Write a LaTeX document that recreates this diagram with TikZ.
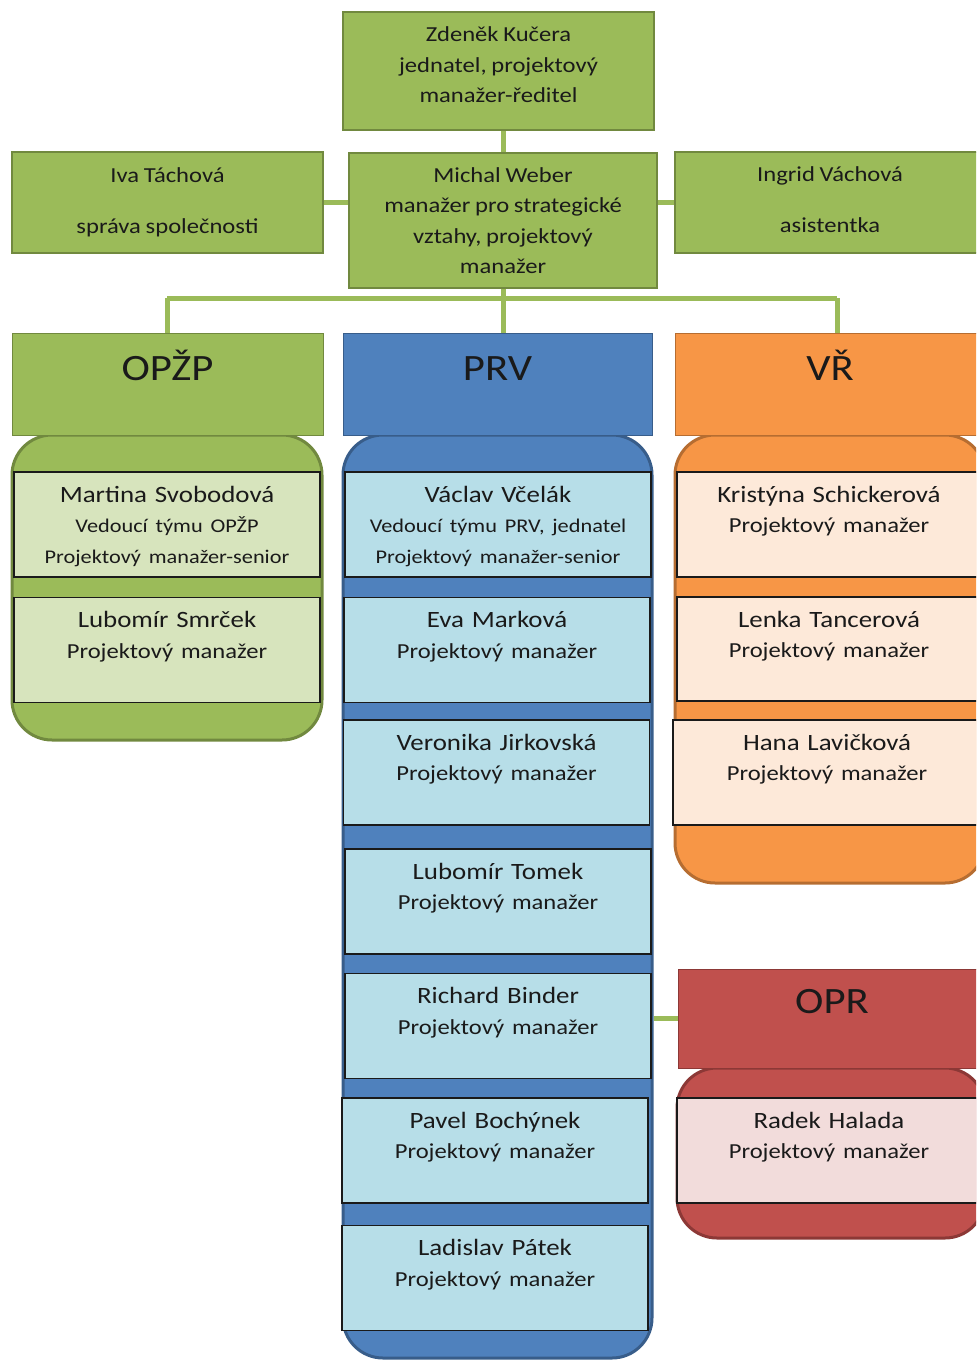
\documentclass[tikz,border=0pt]{standalone}
\usepackage{fontspec}
\setmainfont[FakeStretch=1.15,WordSpace=0.85]{Carlito}
\usepackage{tikz}
\usetikzlibrary{positioning}
\definecolor{ink} {HTML}{1A1A1A}
\definecolor{grn} {HTML}{9BBB59}
\definecolor{grnD}{HTML}{71893F}
\definecolor{grnL}{HTML}{D7E4BD}
\definecolor{blu} {HTML}{4F81BD}
\definecolor{bluD}{HTML}{385D8A}
\definecolor{bluL}{HTML}{B7DEE8}
\definecolor{org} {HTML}{F79646}
\definecolor{orgD}{HTML}{B66D31}
\definecolor{orgL}{HTML}{FDE9D9}
\definecolor{rd}  {HTML}{C0504D}
\definecolor{rdD} {HTML}{8C3836}
\definecolor{rdL} {HTML}{F2DCDB}
\newcommand\topfont{\fontsize{10.7}{15.25}\selectfont}
\newcommand\hdfont{\fontsize{18.6}{22}\selectfont}
\newcommand\nmfont{\fontsize{11.7}{15.3}\selectfont}
\newcommand\rlfont{\fontsize{10.7}{15.3}\selectfont}
\newcommand\ldfont{\fontsize{9.7}{14.75}\selectfont}
\tikzset{
  every node/.style={text=ink},
  % --- boxes
  topbox/.style = {draw=grnD, fill=grn, line width=0.9pt, align=center,
                   inner sep=0pt, font=\topfont},
  hdr/.style    = {fill=#1, draw=#1D, line width=0.5pt, inner sep=0pt,
                   minimum width=155pt, text height=23.5pt, text depth=27.5pt,
                   font=\hdfont},
  cont/.style   = {fill=#1, draw=#1D, line width=1.5pt, rounded corners=20pt,
                   inner sep=0pt},
  memb/.style   = {fill=#1L, draw=ink, line width=0.6pt, inner sep=0pt,
                   minimum width=153pt, minimum height=52.5pt},
  mtxt/.style   = {align=center, inner sep=0pt, text width=150pt, font=\nmfont},
  % --- lines
  conn/.style   = {draw=grn, line width=2.5pt},
}
\begin{document}
\begin{tikzpicture}[x=0.5pt,y=-0.5pt]
  \useasboundingbox (0,0) rectangle (976,1360);
  \clip (0,0) rectangle (976,1360);

  % management
  \node[topbox, minimum width=155.5pt, minimum height=59pt, text depth=6pt] (zdenek) at (498.5,71)
    {Zdeněk Kučera\\jednatel, projektový\\manažer-ředitel};
  \node[topbox, minimum width=154pt, minimum height=67.5pt] (weber) at (503,220.5)
    {Michal Weber\\manažer pro strategické\\vztahy, projektový\\manažer};
  \node[topbox, minimum width=155.5pt, minimum height=50.5pt] (iva) at (167.5,202.5)
    {Iva Táchová\\[10.25pt]správa společnosti};
  \node[topbox, minimum width=155pt, minimum height=50.5pt, text depth=3pt] (ingrid) at (830,202.5)
    {Ingrid Váchová\\[10.25pt]asistentka};
  \draw[conn] (weber.north) -- (weber.north |- zdenek.south);
  \draw[conn] (iva.east) -- (iva.east -| weber.west);
  \draw[conn] (ingrid.west) -- (ingrid.west -| weber.east);

  \coordinate (bar)  at (503,298);
  \coordinate (barL) at (167,298);
  \coordinate (barR) at (837,298);
  \draw[conn] (weber.south) -- (bar);
  \draw[conn] (barL) -- (barR);

  % team containers
  \node[cont=grn, minimum width=155pt, minimum height=152.5pt] (opzpC) at (167,587.5) {};
  \node[cont=blu, minimum width=154.5pt, minimum height=461.5pt] (prvC) at (497.5,896.5) {};
  \node[cont=org, minimum width=155pt, minimum height=224pt] (vrC) at (830,659) {};
  \node[cont=rd, minimum width=154pt, minimum height=85pt] (oprC) at (831,1153) {};

  % team headers
  \node[hdr=grn, minimum width=155.5pt] (opzp) at (167.5,384) {OPŽP};
  \node[hdr=blu, minimum width=154.5pt] (prv) at (497.5,384) {PRV};
  \node[hdr=org] (vr) at (830,384) {VŘ};
  \node[hdr=rd, minimum width=154pt, text height=22pt, text depth=27.5pt] (opr) at (832,1018.5) {OPR};

  \draw[conn] (barL) -- (barL |- opzp.north);
  \draw[conn] (bar) -- (bar |- prv.north);
  \draw[conn] (barR) -- (barR |- vr.north);
  \draw[conn] (opr.west) -- (opr.west -| prvC.east);

  % OPZP
  \node[memb=grn] (martina) at (167,524.5) {};
  \node[mtxt, below=7pt of martina.north] (martinaT)
    {Martina Svobodová\\{\ldfont Vedoucí týmu OPŽP}\\{\ldfont Projektový manažer-senior}};
  \node[memb=grn] (smrcek) at (167,650) {};
  \node[mtxt, below=7pt of smrcek.north] (smrcekT)
    {Lubomír Smrček\\{\rlfont Projektový manažer}};

  % PRV
  \node[memb=blu] (vaclav) at (498,524.5) {};
  \node[mtxt, below=7pt of vaclav.north] (vaclavT)
    {Václav Včelák\\{\ldfont Vedoucí týmu PRV, jednatel}\\{\ldfont Projektový manažer-senior}};
  \node[memb=blu] (eva) at (497,650) {};
  \node[mtxt, below=7pt of eva.north] (evaT)
    {Eva Marková\\{\rlfont Projektový manažer}};
  \node[memb=blu] (veronika) at (496.5,772.5) {};
  \node[mtxt, below=7pt of veronika.north] (veronikaT)
    {Veronika Jirkovská\\{\rlfont Projektový manažer}};
  \node[memb=blu] (tomek) at (498,901.5) {};
  \node[mtxt, below=7pt of tomek.north] (tomekT)
    {Lubomír Tomek\\{\rlfont Projektový manažer}};
  \node[memb=blu] (binder) at (498,1026) {};
  \node[mtxt, below=7pt of binder.north] (binderT)
    {Richard Binder\\{\rlfont Projektový manažer}};
  \node[memb=blu] (bochynek) at (495,1150.5) {};
  \node[mtxt, below=7pt of bochynek.north] (bochynekT)
    {Pavel Bochýnek\\{\rlfont Projektový manažer}};
  \node[memb=blu] (patek) at (495,1278) {};
  \node[mtxt, below=7pt of patek.north] (patekT)
    {Ladislav Pátek\\{\rlfont Projektový manažer}};

  % VR
  \node[memb=org, minimum width=152pt] (kristyna) at (829,524.5) {};
  \node[mtxt, below=7pt of kristyna.north] (kristynaT)
    {Kristýna Schickerová\\{\rlfont Projektový manažer}};
  \node[memb=org, minimum width=152pt, minimum height=52pt] (lenka) at (829,649) {};
  \node[mtxt, below=7pt of lenka.north] (lenkaT)
    {Lenka Tancerová\\{\rlfont Projektový manažer}};
  \node[memb=org, minimum width=154pt] (hana) at (827,772.5) {};
  \node[mtxt, below=7pt of hana.north] (hanaT)
    {Hana Lavičková\\{\rlfont Projektový manažer}};

  % OPR
  \node[memb=rd, minimum width=152pt] (radek) at (829,1150.5) {};
  \node[mtxt, below=7pt of radek.north] (radekT)
    {Radek Halada\\{\rlfont Projektový manažer}};
\end{tikzpicture}
\end{document}
